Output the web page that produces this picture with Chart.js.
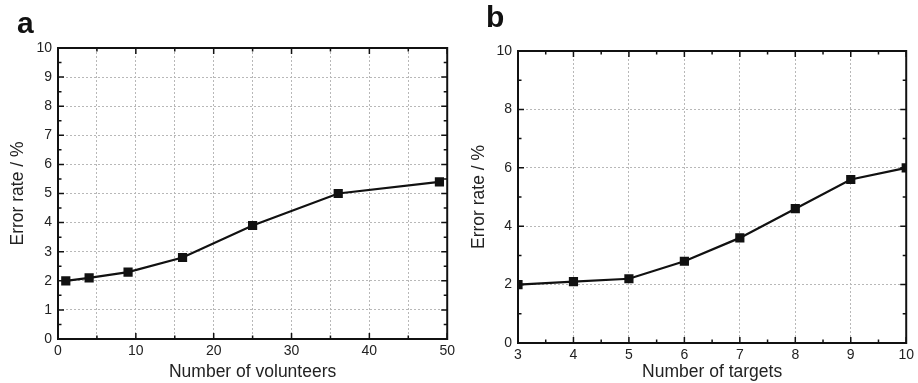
<!DOCTYPE html>
<html>
<head>
<meta charset="utf-8">
<script src="https://cdn.jsdelivr.net/npm/chart.js@4/dist/chart.umd.min.js"></script>
<style>
  html, body { margin: 0; padding: 0; background: #fff; }
  #wrap { position: relative; width: 918px; height: 383px; overflow: hidden; }
  .panel { position: absolute; top: 0; width: 459px; height: 383px; }
  .letter { position: absolute; font-family: "Liberation Sans", Arial, sans-serif; font-weight: bold; font-size: 30px; line-height: 1; color: #111; }
</style>
</head>
<body>
<div id="wrap">
  <div class="panel" style="left:0"><canvas id="chartA"></canvas></div>
  <div class="panel" style="left:459px"><canvas id="chartB"></canvas></div>
  <div class="letter" style="left:17px; top:8px">a</div>
  <div class="letter" style="left:486px; top:2px">b</div>
</div>
<script>
// Panel a: error rate vs number of volunteers
const volunteers = [1, 4, 9, 16, 25, 36, 49];
const errByVolunteers = [2.0, 2.1, 2.3, 2.8, 3.9, 5.0, 5.4];

// Panel b: error rate vs number of targets
const targets = [3, 4, 5, 6, 7, 8, 9, 10];
const errByTargets = [2.0, 2.1, 2.2, 2.8, 3.6, 4.6, 5.6, 6.0];

const FONT = '"Liberation Sans", Arial, sans-serif';

// Draws the box frame and the inward tick marks on all four sides
const frameTicks = {
    id: 'frameTicks',
    afterDraw(chart, args, opts) {
        const ctx = chart.ctx;
        const area = chart.chartArea;
        const xs = chart.scales.x, ys = chart.scales.y;
        ctx.save();
        ctx.strokeStyle = '#111';
        ctx.lineWidth = 1.5;
        ctx.beginPath();
        // x ticks, bottom and top
        for (let v = xs.min; v <= xs.max + 1e-9; v += opts.xMinor) {
            const major = Math.abs(v / opts.xMajor - Math.round(v / opts.xMajor)) < 1e-6;
            const len = major ? 6 : 3.5;
            const px = xs.getPixelForValue(v);
            ctx.moveTo(px, area.bottom); ctx.lineTo(px, area.bottom - len);
            ctx.moveTo(px, area.top); ctx.lineTo(px, area.top + len);
        }
        // y ticks, left and right
        for (let v = ys.min; v <= ys.max + 1e-9; v += opts.yMinor) {
            const major = Math.abs(v / opts.yMajor - Math.round(v / opts.yMajor)) < 1e-6;
            const len = major ? 6 : 3.5;
            const py = ys.getPixelForValue(v);
            ctx.moveTo(area.left, py); ctx.lineTo(area.left + len, py);
            ctx.moveTo(area.right, py); ctx.lineTo(area.right - len, py);
        }
        ctx.stroke();
        ctx.lineWidth = 2;
        ctx.strokeRect(area.left, area.top, area.right - area.left, area.bottom - area.top);
        ctx.restore();
    }
};

function makeChart(id, xVals, yVals, cfg) {
    const points = xVals.map((x, i) => ({ x: x, y: yVals[i] }));
    return new Chart(document.getElementById(id), {
        type: 'line',
        data: {
            datasets: [{
                data: points,
                borderColor: '#111',
                backgroundColor: '#111',
                borderWidth: 2.2,
                pointStyle: 'rect',
                pointRadius: 6.5,
                pointBorderWidth: 0,
                tension: 0
            }]
        },
        options: {
            responsive: false,
            animation: false,
            layout: { padding: { top: cfg.top, right: cfg.right, left: 0, bottom: 0 } },
            plugins: {
                legend: { display: false },
                tooltip: { enabled: false },
                frameTicks: cfg.ticks
            },
            scales: {
                x: {
                    type: 'linear',
                    min: cfg.xMin, max: cfg.xMax,
                    afterFit: s => { s.height = cfg.xAxisHeight; },
                    grid: { color: '#b8b8b8', lineWidth: 1, drawTicks: false },
                    border: { display: false, dash: [2, 2] },
                    ticks: {
                        stepSize: cfg.xStep,
                        padding: 4,
                        color: '#222',
                        font: { family: FONT, size: 14 },
                        maxRotation: 0,
                        callback: v => (Math.abs(v % cfg.xLabelStep) < 1e-6 ? String(v) : '')
                    },
                    title: {
                        display: true,
                        text: cfg.xTitle,
                        color: '#222',
                        font: { family: FONT, size: 17.5 },
                        padding: { top: 0, bottom: 0 }
                    }
                },
                y: {
                    min: 0, max: 10,
                    afterFit: s => { s.width = cfg.yAxisWidth; },
                    grid: { color: '#b8b8b8', lineWidth: 1, drawTicks: false },
                    border: { display: false, dash: [2, 2] },
                    ticks: {
                        stepSize: cfg.yStep,
                        padding: 6,
                        color: '#222',
                        font: { family: FONT, size: 14 }
                    },
                    title: {
                        display: true,
                        text: 'Error rate / %',
                        color: '#222',
                        font: { family: FONT, size: 17.5 },
                        padding: { top: cfg.yTitlePad, bottom: 0 }
                    }
                }
            }
        },
        plugins: [frameTicks]
    });
}

['chartA', 'chartB'].forEach(id => {
    const c = document.getElementById(id);
    c.width = 459; c.height = 383;
    c.style.width = '459px'; c.style.height = '383px';
});

makeChart('chartA', volunteers, errByVolunteers, {
    top: 48, right: 11, xAxisHeight: 44, yAxisWidth: 58, yTitlePad: 8,
    xMin: 0, xMax: 50, xStep: 5, xLabelStep: 10, yStep: 1,
    xTitle: 'Number of volunteers',
    ticks: { xMajor: 10, xMinor: 5, yMajor: 1, yMinor: 0.5 }
});

makeChart('chartB', targets, errByTargets, {
    top: 51, right: 7, xAxisHeight: 40, yAxisWidth: 59, yTitlePad: 10,
    xMin: 3, xMax: 10, xStep: 1, xLabelStep: 1, yStep: 2,
    xTitle: 'Number of targets',
    ticks: { xMajor: 1, xMinor: 0.5, yMajor: 2, yMinor: 1 }
});
</script>
</body>
</html>
